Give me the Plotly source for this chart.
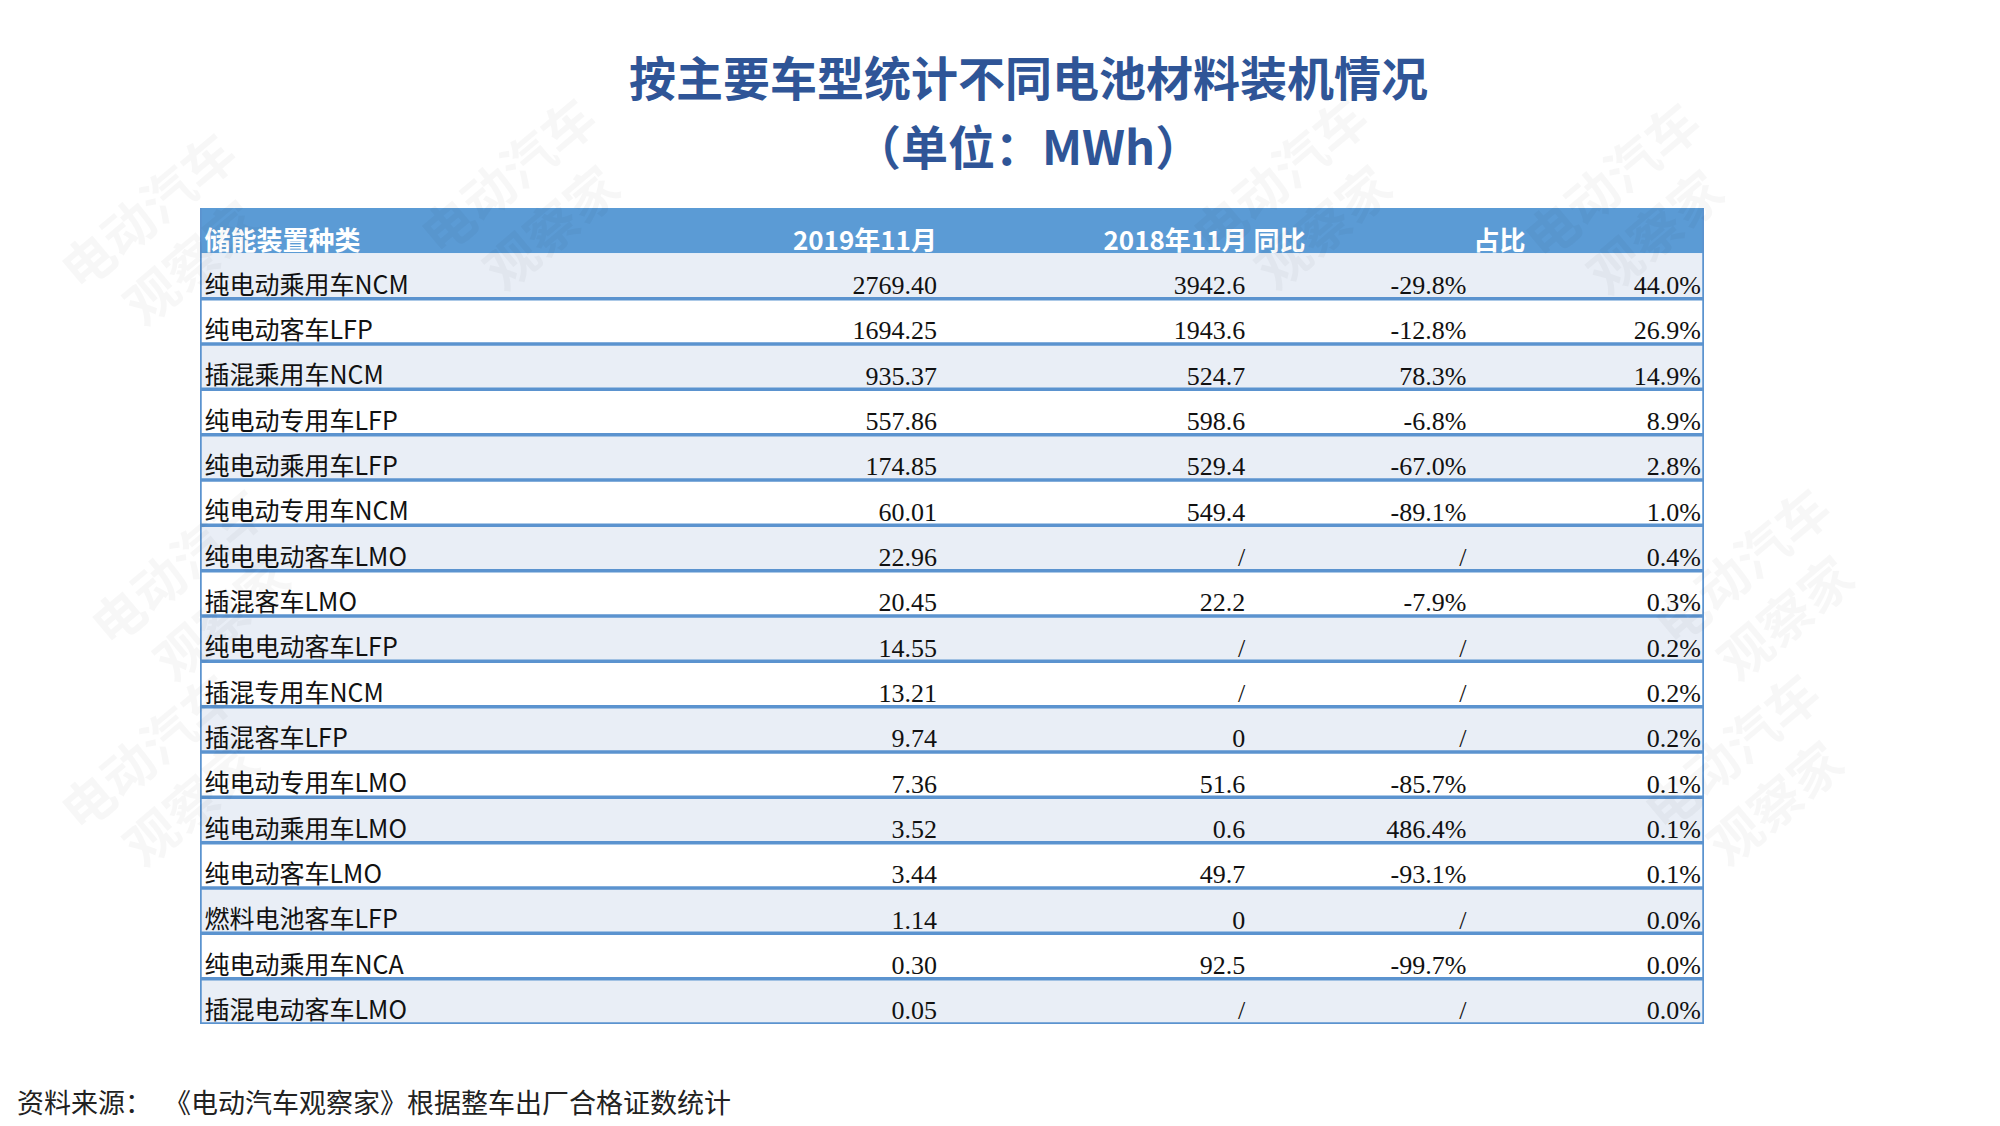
import plotly.graph_objects as go

# ---------------- data ----------------
title_line1 = "按主要车型统计不同电池材料装机情况"
title_line2 = "（单位：MWh）"
source_note = "资料来源：  《电动汽车观察家》根据整车出厂合格证数统计"

header_labels = ["储能装置种类", "2019年11月", "2018年11月 同比", "占比"]

categories = [
    "纯电动乘用车NCM", "纯电动客车LFP", "插混乘用车NCM", "纯电动专用车LFP",
    "纯电动乘用车LFP", "纯电动专用车NCM", "纯电电动客车LMO", "插混客车LMO",
    "纯电电动客车LFP", "插混专用车NCM", "插混客车LFP", "纯电动专用车LMO",
    "纯电动乘用车LMO", "纯电动客车LMO", "燃料电池客车LFP", "纯电动乘用车NCA",
    "插混电动客车LMO",
]
nov2019 = [2769.40, 1694.25, 935.37, 557.86, 174.85, 60.01, 22.96, 20.45,
           14.55, 13.21, 9.74, 7.36, 3.52, 3.44, 1.14, 0.30, 0.05]
nov2018 = [3942.6, 1943.6, 524.7, 598.6, 529.4, 549.4, None, 22.2,
           None, None, 0, 51.6, 0.6, 49.7, 0, 92.5, None]
yoy_pct = [-29.8, -12.8, 78.3, -6.8, -67.0, -89.1, None, -7.9,
           None, None, None, -85.7, 486.4, -93.1, None, -99.7, None]
share_pct = [44.0, 26.9, 14.9, 8.9, 2.8, 1.0, 0.4, 0.3, 0.2, 0.2, 0.2,
             0.1, 0.1, 0.1, 0.0, 0.0, 0.0]

# ---------------- styles ----------------
W, H = 2000, 1126
OFF = 8  # default page body margin
HEAD_BLUE = "#5b9bd5"
LINE_BLUE = "#5b93cf"
ROW_LIGHT = "#e9eef6"
TITLE_BLUE = "#2f5597"
DATA_FONT = "Liberation Serif, Noto Sans CJK SC, serif"
CJK_FONT = "Noto Sans CJK SC, sans-serif"

# column text anchors (fraction of table width)
X_LABEL = 0.003
X_COL2 = 0.490
X_COL3 = 0.695
X_COL4 = 0.842
X_COL5 = 0.998
X_HEAD3 = 0.735
X_HEAD4 = 0.864


def px_x(v):
    return (v - OFF) / W


def px_y(v):
    return 1 - (v - OFF) / H


def fmt2018(v):
    if v is None:
        return "/"
    if v == 0:
        return "0"
    return f"{v:.1f}"


def fmtpct(v):
    return "/" if v is None else f"{v:.1f}%"


n = len(categories)
rows = list(range(n))
ty = [r + 0.25 for r in rows]

fig = go.Figure()

common = dict(mode="text", hoverinfo="skip", showlegend=False, cliponaxis=False)
dfont = dict(family=DATA_FONT, size=26, color="#111111")

fig.add_trace(go.Scatter(x=[X_LABEL] * n, y=ty, text=categories,
                         textposition="middle right",
                         textfont=dict(family=CJK_FONT, size=25, color="#111111"),
                         **common))
fig.add_trace(go.Scatter(x=[X_COL2] * n, y=ty, text=[f"{v:.2f}" for v in nov2019],
                         textposition="middle left", textfont=dfont, **common))
fig.add_trace(go.Scatter(x=[X_COL3] * n, y=ty, text=[fmt2018(v) for v in nov2018],
                         textposition="middle left", textfont=dfont, **common))
fig.add_trace(go.Scatter(x=[X_COL4] * n, y=ty, text=[fmtpct(v) for v in yoy_pct],
                         textposition="middle left", textfont=dfont, **common))
fig.add_trace(go.Scatter(x=[X_COL5] * n, y=ty, text=[fmtpct(v) for v in share_pct],
                         textposition="middle left", textfont=dfont, **common))

# header texts
hfont = dict(family=CJK_FONT, size=26, color="white")
hy = -1 + 0.28
fig.add_trace(go.Scatter(x=[X_LABEL], y=[hy], text=[f"<b>{header_labels[0]}</b>"],
                         textposition="middle right", textfont=hfont, **common))
fig.add_trace(go.Scatter(x=[X_COL2, X_HEAD3], y=[hy, hy],
                         text=[f"<b>{header_labels[1]}</b>", f"<b>{header_labels[2]}</b>"],
                         textposition="middle left", textfont=hfont, **common))
fig.add_trace(go.Scatter(x=[X_HEAD4], y=[hy], text=[f"<b>{header_labels[3]}</b>"],
                         textposition="middle center", textfont=hfont, **common))

shapes = []
# header band
shapes.append(dict(type="rect", xref="x", yref="y", x0=0, x1=1, y0=-1.5, y1=-0.5,
                   fillcolor=HEAD_BLUE, line=dict(width=0), layer="below"))
# row bands and bottom lines
for r in rows:
    if r % 2 == 0:
        shapes.append(dict(type="rect", xref="x", yref="y", x0=0, x1=1,
                           y0=r - 0.5, y1=r + 0.5, fillcolor=ROW_LIGHT,
                           line=dict(width=0), layer="below"))
    shapes.append(dict(type="line", xref="x", yref="y", x0=0, x1=1,
                       y0=r + 0.5, y1=r + 0.5, line=dict(color=LINE_BLUE, width=3.5),
                       layer="above"))
# side borders
for xx in (0, 1):
    shapes.append(dict(type="line", xref="x", yref="y", x0=xx, x1=xx,
                       y0=-1.5, y1=n - 0.5, line=dict(color=LINE_BLUE, width=3.5),
                       layer="above"))

annotations = [
    dict(text=f"<b>{title_line1}</b>", x=px_x(1028), y=px_y(75),
         xref="paper", yref="paper", xanchor="center", yanchor="middle", showarrow=False,
         font=dict(family=CJK_FONT, size=47, color=TITLE_BLUE)),
    dict(text=f"<b>{title_line2}</b>", x=px_x(1028), y=px_y(144),
         xref="paper", yref="paper", xanchor="center", yanchor="middle", showarrow=False,
         font=dict(family=CJK_FONT, size=47, color=TITLE_BLUE)),
    dict(text=source_note, x=px_x(15), y=px_y(1101), xref="paper", yref="paper",
         xanchor="left", yanchor="middle", showarrow=False,
         font=dict(family=CJK_FONT, size=27, color="#222222")),
]

# faint watermarks kept in the margins around the table
wm_pos = [(40, 110), (400, 75), (1300, 75), (1760, 80),
          (70, 590), (1890, 590), (40, 900), (1880, 900)]
for (wx, wy) in wm_pos:
    annotations.append(dict(text="<b>电动汽车<br>观察家</b>", x=px_x(wx), y=px_y(wy),
                            xref="paper", yref="paper", showarrow=False, textangle=-40,
                            font=dict(family=CJK_FONT, size=52, color="rgba(0,0,0,0.03)")))

fig.update_layout(
    width=W, height=H,
    margin=dict(l=0, r=0, t=0, b=0),
    paper_bgcolor="white", plot_bgcolor="rgba(0,0,0,0)",
    xaxis=dict(domain=[px_x(200), px_x(1704)], range=[0, 1], visible=False,
               fixedrange=True),
    yaxis=dict(domain=[px_y(1024), px_y(208)], range=[n - 0.5, -1.5],
               visible=False, fixedrange=True),
    shapes=shapes,
    annotations=annotations,
)

fig.write_html("out.html")
